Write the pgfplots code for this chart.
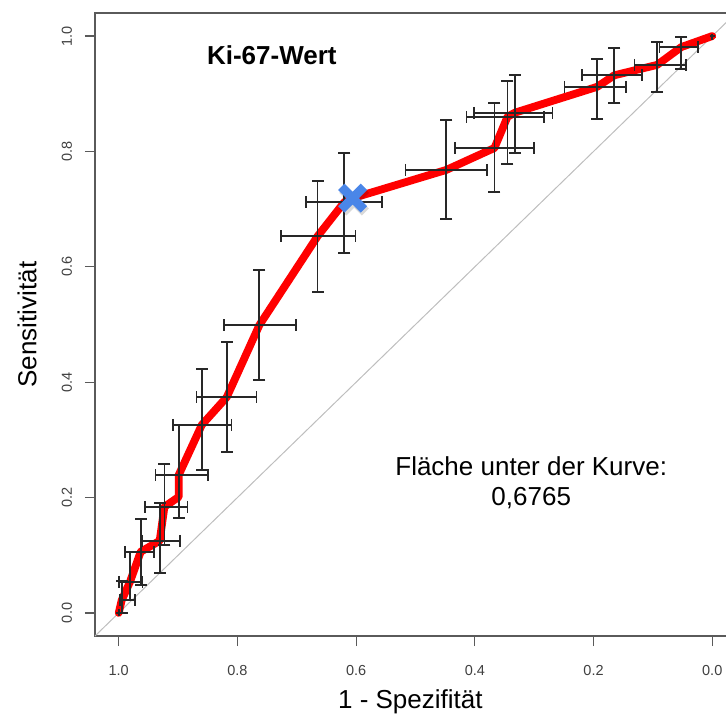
\documentclass[border=0pt]{standalone}
\usepackage{pgfplots}
\pgfplotsset{compat=1.18}
\usepackage{fontspec}
\setmainfont{Liberation Sans}
\definecolor{rocred}{RGB}{255,0,0}
\definecolor{xblue}{RGB}{74,134,232}
\definecolor{diaggray}{RGB}{190,190,190}
\definecolor{barcol}{RGB}{40,40,40}
\definecolor{axcol}{RGB}{90,90,90}
\pgfdeclareplotmark{emptymark}{}
\begin{document}
\begin{tikzpicture}
\path[use as bounding box] (-95bp,-80bp) rectangle (631bp,636bp);
\begin{axis}[
  at={(0,0)}, anchor=south west,
  scale only axis, width=641bp, height=623bp,
  x dir=reverse,
  xmin=-0.04, xmax=1.04, ymin=-0.04, ymax=1.04,
  axis line style={axcol, line width=1.4bp},
  xtick={0,0.2,0.4,0.6,0.8,1}, xticklabels={0.0,0.2,0.4,0.6,0.8,1.0},
  ytick={0,0.2,0.4,0.6,0.8,1}, yticklabels={0.0,0.2,0.4,0.6,0.8,1.0},
  xtick pos=lower, ytick pos=left, tick align=outside,
  major tick length=10bp,
  tick style={axcol, line width=1.2bp},
  ticklabel style={font=\fontsize{14.5bp}{17bp}\selectfont, text=black!75},
  xticklabel style={anchor=center, yshift=-25bp},
  yticklabel style={xshift=-18bp, rotate=90, anchor=center},
  xlabel={1 - Spezifität},
  ylabel={Sensitivität},
  xlabel style={at={(axis description cs:0.492,-0.106)}, anchor=center, font=\fontsize{26bp}{30bp}\selectfont},
  ylabel style={at={(axis description cs:-0.106,0.5)}, anchor=center, font=\fontsize{26bp}{30bp}\selectfont},
]
\addplot[diaggray, line width=1bp, no markers] coordinates {(1.04,-0.04) (-0.04,1.04)};

\addplot[rocred, line width=7.8bp, line join=round, line cap=round, no markers] coordinates {
(1.000,0.000) (0.995,0.022) (0.981,0.054) (0.963,0.106) (0.931,0.125) (0.923,0.184)
(0.899,0.201) (0.899,0.239) (0.860,0.326) (0.818,0.374) (0.763,0.499) (0.665,0.653)
(0.620,0.712) (0.606,0.719) (0.448,0.768) (0.367,0.806) (0.345,0.860) (0.333,0.867)
(0.194,0.912) (0.165,0.932) (0.093,0.950) (0.052,0.981) (0.000,1.000)};

% confidence intervals (bars)
\addplot[barcol, only marks, mark=emptymark,
  error bars/.cd, x dir=both, x explicit, y dir=both, y explicit,
  error mark=none,
  error bar style={draw=barcol, line width=1.8bp, solid}]
coordinates {
(1.000,0.000) += (0.004,0.006) -= (0.004,0.006)
(0.995,0.022) += (0.003,0.033) -= (0.022,0.022)
(0.981,0.054) += (0.019,0.052) -= (0.021,0.031)
(0.963,0.106) += (0.027,0.057) -= (0.023,0.057)
(0.931,0.125) += (0.030,0.066) -= (0.034,0.056)
(0.923,0.184) += (0.033,0.074) -= (0.039,0.066)
(0.899,0.239) += (0.039,0.087) -= (0.049,0.074)
(0.860,0.326) += (0.049,0.097) -= (0.050,0.078)
(0.818,0.374) += (0.051,0.096) -= (0.050,0.095)
(0.763,0.499) += (0.060,0.095) -= (0.061,0.095)
(0.665,0.653) += (0.062,0.096) -= (0.064,0.097)
(0.620,0.712) += (0.064,0.085) -= (0.063,0.088)
(0.448,0.768) += (0.069,0.086) -= (0.068,0.085)
(0.367,0.806) += (0.067,0.078) -= (0.066,0.076)
(0.345,0.860) += (0.069,0.062) -= (0.062,0.082)
(0.333,0.867) += (0.068,0.065) -= (0.064,0.070)
(0.194,0.912) += (0.055,0.048) -= (0.049,0.056)
(0.165,0.932) += (0.054,0.047) -= (0.047,0.048)
(0.093,0.950) += (0.038,0.040) -= (0.049,0.047)
(0.052,0.981) += (0.037,0.017) -= (0.028,0.038)
(0.000,1.000) += (0.004,0.004) -= (0.004,0.006)
};

% caps of the sensitivity intervals
\addplot[only marks, mark=-, mark size=6bp, mark options={draw=barcol, line width=1.8bp}] coordinates {
(0.995,0.055) (0.995,0.000)
(0.981,0.106) (0.981,0.023)
(0.963,0.163) (0.963,0.049)
(0.931,0.191) (0.931,0.069)
(0.923,0.258) (0.923,0.118)
(0.899,0.326) (0.899,0.165)
(0.860,0.423) (0.860,0.248)
(0.818,0.470) (0.818,0.279)
(0.763,0.594) (0.763,0.404)
(0.665,0.749) (0.665,0.556)
(0.620,0.797) (0.620,0.624)
(0.448,0.854) (0.448,0.683)
(0.367,0.884) (0.367,0.730)
(0.345,0.922) (0.345,0.778)
(0.333,0.932) (0.333,0.797)
(0.194,0.960) (0.194,0.856)
(0.165,0.979) (0.165,0.884)
(0.093,0.990) (0.093,0.903)
(0.052,0.998) (0.052,0.943)
};
% caps of the specificity intervals
\addplot[only marks, mark=|, mark size=6bp, mark options={draw=barcol, line width=1.8bp}] coordinates {
(0.998,0.022) (0.973,0.022)
(1.000,0.054) (0.960,0.054)
(0.990,0.106) (0.940,0.106)
(0.961,0.125) (0.897,0.125)
(0.956,0.184) (0.884,0.184)
(0.938,0.239) (0.850,0.239)
(0.909,0.326) (0.810,0.326)
(0.869,0.374) (0.768,0.374)
(0.823,0.499) (0.702,0.499)
(0.727,0.653) (0.601,0.653)
(0.684,0.712) (0.557,0.712)
(0.517,0.768) (0.380,0.768)
(0.434,0.806) (0.301,0.806)
(0.414,0.860) (0.283,0.860)
(0.401,0.867) (0.269,0.867)
(0.249,0.912) (0.145,0.912)
(0.219,0.932) (0.118,0.932)
(0.131,0.950) (0.044,0.950)
(0.089,0.981) (0.024,0.981)
};

\addplot[black, opacity=0.15, only marks, mark=x, mark size=16bp,
  mark options={line width=10bp, xshift=1.5bp, yshift=-2.5bp}] coordinates {(0.606,0.719)};
\addplot[xblue, only marks, mark=x, mark size=16bp,
  mark options={line width=9bp}] coordinates {(0.606,0.719)};

\node[anchor=base, font=\bfseries\fontsize{26bp}{30bp}\selectfont] at (axis cs:0.742,0.950) {Ki-67-Wert};
\node[anchor=base, font=\fontsize{26bp}{30bp}\selectfont] at (axis cs:0.305,0.239) {Fläche unter der Kurve:};
\node[anchor=base, font=\fontsize{26bp}{30bp}\selectfont] at (axis cs:0.305,0.187) {0,6765};
\end{axis}
\end{tikzpicture}
\end{document}
